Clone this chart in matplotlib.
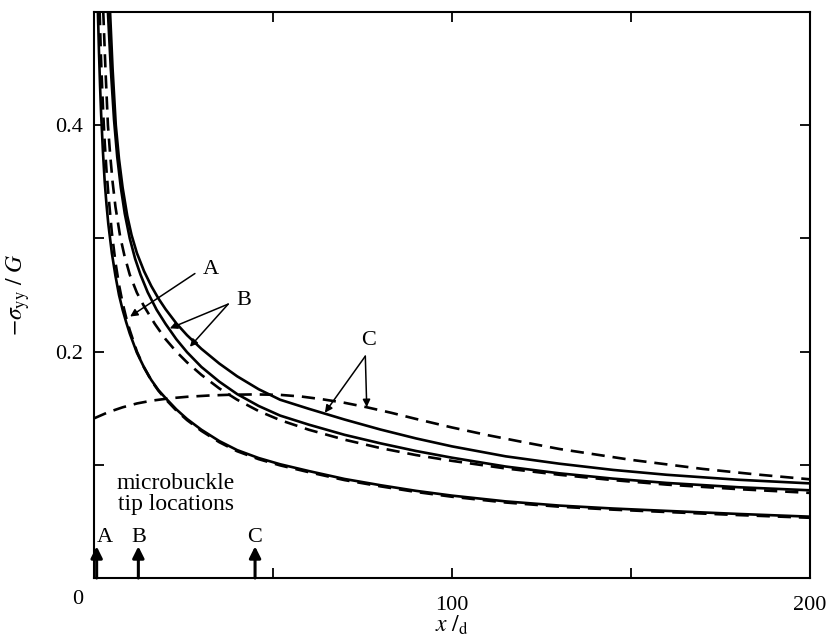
import numpy as np
import matplotlib.pyplot as plt
from matplotlib.transforms import ScaledTranslation

plt.rcParams['font.family'] = ['Liberation Serif', 'DejaVu Serif']
plt.rcParams['mathtext.fontset'] = 'stix'

# curve A, solid and dashed (almost on top of each other)
xa_solid = [1.1, 1.4, 1.7, 2.0, 2.5, 3.0, 3.5, 4.0, 5.0, 6.0, 7.0, 8.0, 9.0, 10, 12, 14, 16, 18, 20, 23, 26,
            30, 35, 40, 46, 52, 60, 70, 80, 90, 100, 115, 130, 145, 160, 180, 200]
ya_solid = [0.50, 0.465, 0.435, 0.41, 0.377, 0.35, 0.33, 0.313, 0.287, 0.267, 0.25, 0.237, 0.226, 0.216,
            0.199, 0.186, 0.175, 0.166, 0.159, 0.149, 0.1405, 0.131, 0.121, 0.113, 0.106, 0.1005, 0.0945,
            0.0875, 0.082, 0.077, 0.0728, 0.0677, 0.064, 0.0614, 0.0593, 0.0566, 0.0542]
xa_dash = [1.6, 1.9, 2.2, 2.6, 3.0, 3.5, 4.0, 5.0, 6.0, 7.0, 8.0, 9.0, 10, 12, 14, 16, 18, 20, 23, 26,
           30, 35, 40, 46, 52, 60, 70, 80, 90, 100, 115, 130, 145, 160, 180, 200]
ya_dash = [0.50, 0.465, 0.44, 0.41, 0.385, 0.36, 0.34, 0.305, 0.279, 0.259, 0.243, 0.23, 0.219, 0.2,
           0.186, 0.1745, 0.1655, 0.158, 0.148, 0.1395, 0.13, 0.12, 0.112, 0.105, 0.0995, 0.0935, 0.0865,
           0.081, 0.076, 0.0718, 0.0667, 0.063, 0.0604, 0.0583, 0.0556, 0.0532]

# curve B
xb_solid = [3.9, 4.7, 5.6, 6.5, 7.5, 8.6, 10, 11.5, 13, 15, 17.5, 20, 23, 26, 30, 35, 40, 46, 52, 60,
            70, 80, 90, 100, 115, 130, 145, 160, 180, 200]
yb_solid = [0.50, 0.45, 0.405, 0.372, 0.345, 0.322, 0.30, 0.282, 0.268, 0.2525, 0.237, 0.2245, 0.211,
            0.1995, 0.1865, 0.1735, 0.1625, 0.152, 0.1435, 0.1355, 0.1265, 0.119, 0.1122, 0.1063, 0.0985,
            0.0925, 0.0878, 0.084, 0.0802, 0.0775]
xb_dash = [2.6, 3.2, 3.9, 4.5, 5.2, 6.0, 7.3, 8.5, 10, 12, 14, 17, 20, 23, 26, 30, 35, 40, 46, 52, 60,
           70, 80, 90, 100, 115, 130, 145, 160, 180, 200]
yb_dash = [0.50, 0.45, 0.40, 0.375, 0.35, 0.328, 0.302, 0.285, 0.268, 0.252, 0.24, 0.2245, 0.211, 0.2,
           0.1905, 0.1795, 0.1675, 0.1575, 0.1475, 0.1395, 0.131, 0.1222, 0.1148, 0.1086, 0.1035, 0.0968,
           0.0912, 0.0865, 0.0825, 0.0785, 0.0752]

# curve C
xc_solid = [4.5, 5.2, 6.1, 7.0, 8.0, 9.3, 10.5, 12, 14, 16, 18, 20, 23, 26, 30, 35, 40, 46, 52, 60, 70,
            80, 90, 100, 115, 130, 145, 160, 180, 200]
yc_solid = [0.50, 0.45, 0.40, 0.37, 0.345, 0.32, 0.303, 0.287, 0.271, 0.258, 0.247, 0.2375, 0.225,
            0.2145, 0.2025, 0.1895, 0.1782, 0.1668, 0.1575, 0.1495, 0.1400, 0.1312, 0.1233, 0.1163, 0.1075,
            0.101, 0.0955, 0.0912, 0.0868, 0.0836]
xc_dash = [0, 4, 8, 12, 16, 21, 26, 32, 38, 45, 52, 58, 64, 70, 76, 83, 90, 100, 110, 120, 130, 150,
           170, 185, 200]
yc_dash = [0.141, 0.1465, 0.1508, 0.1542, 0.1566, 0.1587, 0.1601, 0.1612, 0.1619, 0.1622, 0.1618,
           0.1603, 0.1578, 0.1548, 0.151, 0.146, 0.1405, 0.133, 0.1262, 0.12, 0.114, 0.1044, 0.0964,
           0.0915, 0.0872]

# microbuckle tip locations
tip_names = ['A', 'B', 'C']
tip_x = [0.75, 12.4, 45.0]

fig = plt.figure(figsize=(8.33, 6.37), dpi=100)
ax = fig.add_axes([0.1128, 0.0926, 0.8595, 0.8885])

lw = 1.9
dash = (0, (5, 3))
ax.plot(xa_solid, ya_solid, color='k', lw=lw)
ax.plot(xa_dash, ya_dash, color='k', lw=lw, linestyle=dash)
ax.plot(xb_solid, yb_solid, color='k', lw=lw)
ax.plot(xb_dash, yb_dash, color='k', lw=lw, linestyle=dash)
ax.plot(xc_solid, yc_solid, color='k', lw=lw)
ax.plot(xc_dash, yc_dash, color='k', lw=lw, linestyle=dash)

ax.set_xlim(0, 200)
ax.set_ylim(0, 0.5)

ax.set_xticks([0, 100, 200])
ax.set_xticks([50, 150], minor=True)
ax.set_yticks([0.2, 0.4])
ax.set_yticks([0.1, 0.3], minor=True)
ax.set_yticklabels(['0.2', '0.4'])
ax.tick_params(which='both', direction='in', top=True, right=True, length=7, width=1.3,
               labelsize=16, pad=8)
ax.tick_params(axis='x', pad=13)
for s in ax.spines.values():
    s.set_linewidth(1.5)

# the origin label sits a little left of the axis and a bit higher
lab0 = ax.get_xticklabels()[0]
lab0.set_transform(lab0.get_transform() + ScaledTranslation(-12 / 72, 0.06, fig.dpi_scale_trans))

ax.set_xlabel(r'$x\ /_{\mathrm{d}}$', fontsize=17, labelpad=-1)
ax.set_ylabel(r'$-\sigma_{\mathrm{yy}}\ /\ G$', fontsize=17)
ax.yaxis.set_label_coords(-0.086, 0.5)

# curve labels with leader arrows
arr = dict(arrowstyle='-|>', lw=1.1, color='k', mutation_scale=11, shrinkA=0, shrinkB=0)
ax.text(32.6, 0.2725, 'A', fontsize=16, ha='center', va='center')
ax.annotate('', xy=(10.1, 0.231), xytext=(28.2, 0.269), arrowprops=arr)
ax.text(41.8, 0.245, 'B', fontsize=16, ha='center', va='center')
ax.annotate('', xy=(21.2, 0.2206), xytext=(37.5, 0.242), arrowprops=arr)
ax.annotate('', xy=(26.8, 0.2043), xytext=(37.5, 0.242), arrowprops=arr)
ax.text(76.6, 0.210, 'C', fontsize=16, ha='center', va='center')
ax.annotate('', xy=(64.5, 0.146), xytext=(75.8, 0.196), arrowprops=arr)
ax.annotate('', xy=(76.2, 0.151), xytext=(75.8, 0.196), arrowprops=arr)

ax.text(22.8, 0.0745, 'microbuckle\ntip locations', fontsize=17, ha='center', va='center',
        linespacing=1.0)

tip_arr = dict(arrowstyle='-|>', lw=2.2, color='k', mutation_scale=17, shrinkA=0, shrinkB=0)
for name, xt in zip(tip_names, tip_x):
    ax.annotate('', xy=(xt, 0.028), xytext=(xt, 0.0), arrowprops=tip_arr)
    ax.text(xt + (2.4 if name == 'A' else 0), 0.0355, name, fontsize=16, ha='center', va='center')

fig.savefig('out.png', dpi=100)
